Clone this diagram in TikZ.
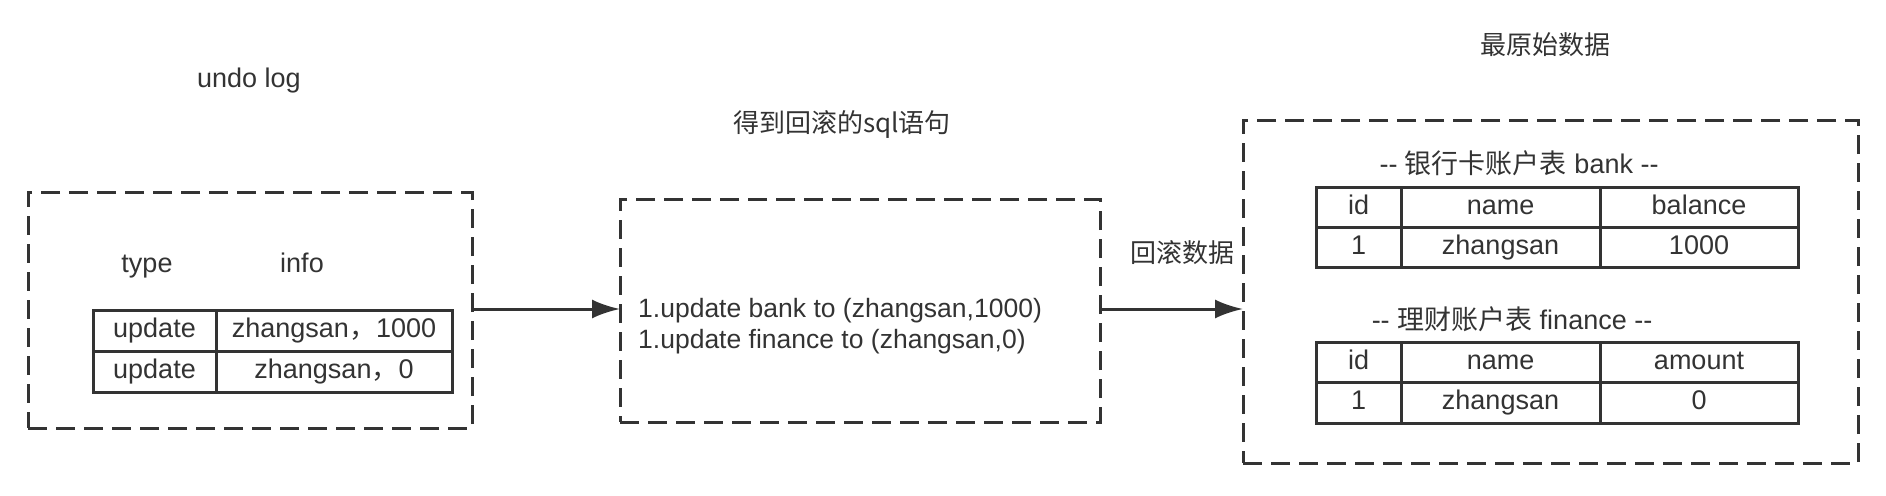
\documentclass[tikz,border=0pt]{standalone}
\usepackage{fontspec}
\setmainfont{Liberation Sans}
\newfontfamily\cjk{Noto Sans CJK SC}
\usetikzlibrary{arrows.meta}
\definecolor{ink}{HTML}{333333}
\tikzset{
  dbox/.style={draw=ink, line width=3pt, dash pattern=on 19pt off 9pt, inner sep=0pt, outer sep=0pt},
  cell/.style={draw=ink, line width=3pt, inner sep=0pt, outer sep=0pt, text=ink, text height=20pt, text depth=6pt, font=\fontsize{27}{31}\selectfont},
  lbl/.style={text=ink, inner sep=0pt, text height=20pt, text depth=6pt, font=\fontsize{27}{31}\selectfont},
  cjklbl/.style={text=ink, inner sep=0pt, font=\cjk\fontsize{26}{30}\selectfont},
  conn/.style={draw=ink, line width=3pt, -{Latex[length=28pt,width=19pt]}},
}
\begin{document}
\begin{tikzpicture}[x=1pt,y=-1pt]
\useasboundingbox (0,0) rectangle (1886,495);
% boxes
\node[dbox, minimum width=444pt, minimum height=236pt] (log) at (250,310) {};
\node[dbox, minimum width=480pt, minimum height=223pt] (sql) at (860,310.5) {};
\node[dbox, minimum width=615pt, minimum height=343pt] (orig) at (1550.5,291.5) {};
% titles
\node[lbl] (tlog) at (249,80) {undo log};
\node[cjklbl] (tsql) at (842,124) {得到回滚的sql语句};
\node[cjklbl] (torig) at (1545,45) {最原始数据};
\node[cjklbl] (troll) at (1182,253) {回滚数据};
% undo log table
\node[lbl] (htype) at (147,265) {type};
\node[lbl] (hinfo) at (302,265) {info};
\node[cell, minimum width=123pt, minimum height=41pt] (u11) at (154.5,330.5) {update};
\node[cell, minimum width=236pt, minimum height=41pt] (u12) at (334,330.5) {zhangsan{\cjk ，}1000};
\node[cell, minimum width=123pt, minimum height=41pt] (u21) at (154.5,371.5) {update};
\node[cell, minimum width=236pt, minimum height=41pt] (u22) at (334,371.5) {zhangsan{\cjk ，}0};
% sql text
\node[text=ink, inner sep=0pt, anchor=west, align=left, font=\fontsize{26.5}{31}\selectfont] (sqltxt) at (638,326) {1.update bank to (zhangsan,1000)\\1.update finance to (zhangsan,0)};
% bank table
\node[lbl] (tbank) at (1519,166) {-{}- {\cjk 银行卡账户表} bank -{}-};
\node[cell, minimum width=85pt, minimum height=40pt] (b11) at (1358.5,207) {id};
\node[cell, minimum width=199pt, minimum height=40pt] (b12) at (1500.5,207) {name};
\node[cell, minimum width=198pt, minimum height=40pt] (b13) at (1699,207) {balance};
\node[cell, minimum width=85pt, minimum height=40pt] (b21) at (1358.5,247) {1};
\node[cell, minimum width=199pt, minimum height=40pt] (b22) at (1500.5,247) {zhangsan};
\node[cell, minimum width=198pt, minimum height=40pt] (b23) at (1699,247) {1000};
% finance table
\node[lbl] (tfin) at (1512,322) {-{}- {\cjk 理财账户表} finance -{}-};
\node[cell, minimum width=85pt, minimum height=40pt] (f11) at (1358.5,362) {id};
\node[cell, minimum width=199pt, minimum height=40pt] (f12) at (1500.5,362) {name};
\node[cell, minimum width=198pt, minimum height=40pt] (f13) at (1699,362) {amount};
\node[cell, minimum width=85pt, minimum height=41pt] (f21) at (1358.5,402.5) {1};
\node[cell, minimum width=199pt, minimum height=41pt] (f22) at (1500.5,402.5) {zhangsan};
\node[cell, minimum width=198pt, minimum height=41pt] (f23) at (1699,402.5) {0};
% connectors
\draw[conn] (log.east |- 0,309) -- (sql.west |- 0,309);
\draw[conn] (sql.east |- 0,309) -- (orig.west |- 0,309);
\end{tikzpicture}
\end{document}
